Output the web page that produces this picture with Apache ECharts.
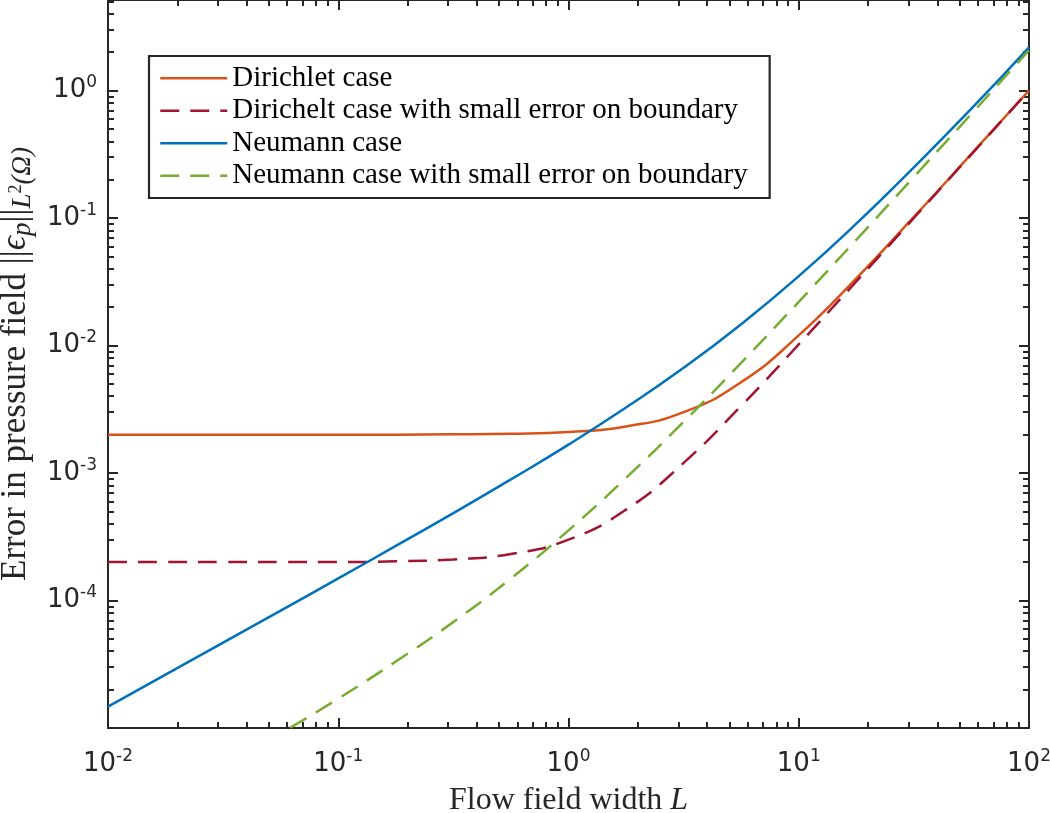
<!DOCTYPE html>
<html><head><meta charset="utf-8">
<script src="https://cdn.jsdelivr.net/npm/echarts@6/dist/echarts.min.js"></script>
<style>html,body{margin:0;padding:0;background:#fff}#c{width:1050px;height:813px}</style>
</head><body><div id="c"></div>
<script>
// Flow field width L (sample points)
const L = [0.01,0.01778,0.03162,0.05623,0.1,0.1778,0.3162,0.5623,1,1.778,3.162,5.623,10,17.78,31.62,56.23,100];
const dirichlet    = [0.002,0.002,0.002,0.002,0.002,0.002,0.00201,0.00203,0.0021,0.00232,0.003,0.00516,0.012,0.0336,0.102,0.318,1.0];
const dirichletErr = [0.0002,0.0002,0.0002,0.0002,0.0002,0.000203,0.00021,0.000232,0.0003,0.000516,0.0012,0.00336,0.0102,0.0318,0.1,0.316,1.0];
const neumann      = [1.47e-5,2.62e-5,4.67e-5,8.33e-5,1.49e-4,2.68e-4,4.85e-4,8.91e-4,1.67e-3,3.26e-3,6.68e-3,1.47e-2,0.035,0.0903,0.25,0.72,2.18];
const neumannErr   = [1.52e-6,2.73e-6,4.95e-6,9.08e-6,1.7e-5,3.32e-5,6.79e-5,1.49e-4,3.55e-4,9.15e-4,2.52e-3,7.32e-3,0.022,0.0675,0.21,0.656,2.07];
const seriesNames = ['Dirichlet case','Dirichelt case with small error on boundary','Neumann case','Neumann case with small error on boundary'];
// axis decades (log10 exponents)
const xDecades = [-2,-1,0,1,2];
const yDecades = [-5,-4,-3,-2,-1,0];
const yLabelDecades = [-4,-3,-2,-1,0];
const xRange = [-2, 2];
const yRange = [-5, 0.71];

function minorOf(decs, lo, hi){
  const out=[];
  for(const d of decs){ for(let k=2;k<=9;k++){ const v=d+Math.log10(k); if(v>lo && v<hi) out.push(v);} }
  return out;
}
const xMinor = minorOf(xDecades, xRange[0], xRange[1]);
const yMinor = minorOf(yDecades, yRange[0], yRange[1]);

const axisColor = '#262626';
const labelRich = {
  b:{fontFamily:'DejaVu Sans', fontSize:26, color:axisColor, lineHeight:32},
  s:{fontFamily:'DejaVu Sans', fontSize:17, color:axisColor, lineHeight:13, verticalAlign:'top'}
};
const fmt = v => '{b|10}{s|' + Math.round(v) + '}';

function mk(data){ return L.map((x,i)=>[Math.log10(x), Math.log10(data[i])]); }

function xAx(pos, minor, labels, extra){
  return Object.assign({
    type:'value', min:xRange[0], max:xRange[1], position:pos, gridIndex:0,
    axisLine:{show:!minor, onZero:false, lineStyle:{color:axisColor, width:2}},
    axisTick:{show:true, inside:true, length:minor?6:10, lineStyle:{color:axisColor, width:2}, customValues: minor?xMinor:xDecades},
    axisLabel:{show:labels, customValues:xDecades, formatter:fmt, rich:labelRich, margin:20},
    splitLine:{show:false}
  }, extra||{});
}
function yAx(pos, minor, labels, extra){
  return Object.assign({
    type:'value', min:yRange[0], max:yRange[1], position:pos, gridIndex:0,
    axisLine:{show:!minor, onZero:false, lineStyle:{color:axisColor, width:2}},
    axisTick:{show:true, inside:true, length:minor?6:10, lineStyle:{color:axisColor, width:2}, customValues: minor?yMinor:yDecades},
    axisLabel:{show:labels, customValues:yLabelDecades, formatter:fmt, rich:labelRich, margin:11},
    splitLine:{show:false}
  }, extra||{});
}

const chart = echarts.init(document.getElementById('c'), null, {renderer:'canvas'});
const serif = 'Liberation Serif';
chart.setOption({
  animation:false,
  backgroundColor:'#fff',
  grid:{left:108, right:21, top:0, bottom:85, containLabel:false, outerBoundsMode:'none'},
  xAxis:[
    xAx('bottom', false, true, {
      name:'{n|Flow field width }{i|L}', nameLocation:'middle', nameGap:57,
      nameTextStyle:{rich:{n:{fontFamily:serif,fontSize:32,color:axisColor},i:{fontFamily:serif,fontSize:32,fontStyle:'italic',color:axisColor}}}
    }),
    xAx('bottom', true, false),
    xAx('top', false, false),
    xAx('top', true, false)
  ],
  yAxis:[
    yAx('left', false, true, {
      name:'{t|Error in pressure field }{t|||}{e|ϵ}{s|p}{t|||}{s|L}{ss|2}{s|(Ω)}',
      nameLocation:'middle', nameGap:72, nameRotate:90,
      nameTextStyle:{rich:{
        t:{fontFamily:serif,fontSize:35,color:axisColor,lineHeight:40},
        e:{fontFamily:serif,fontSize:35,fontStyle:'italic',color:axisColor,lineHeight:40},
        s:{fontFamily:serif,fontSize:27,fontStyle:'italic',color:axisColor,lineHeight:24,verticalAlign:'bottom'},
        ss:{fontFamily:serif,fontSize:18,color:axisColor,lineHeight:18,verticalAlign:'middle'}
      }}
    }),
    yAx('left', true, false),
    yAx('right', false, false),
    yAx('right', true, false)
  ],
  legend:{
    left:149, top:56, orient:'vertical', selectedMode:false,
    itemWidth:67, itemHeight:14, itemGap:0,
    padding:[6,22,6,10], borderColor:'#262626', borderWidth:2.2, backgroundColor:'#fff',
    itemStyle:{opacity:0},
    lineStyle:{width:2.5},
    textStyle:{fontFamily:serif, fontSize:29, color:'#000', lineHeight:32.5},
    data:seriesNames
  },
  series:[
    {name:seriesNames[0], type:'line', data:mk(dirichlet), smooth:true, showSymbol:false, symbol:'none', lineStyle:{color:'#D95319', width:2.5}, itemStyle:{color:'#D95319'}},
    {name:seriesNames[1], type:'line', data:mk(dirichletErr), smooth:true, showSymbol:false, symbol:'none', lineStyle:{color:'#A2142F', width:2.5, type:[19,11]}, itemStyle:{color:'#A2142F'}},
    {name:seriesNames[2], type:'line', data:mk(neumann), smooth:true, showSymbol:false, symbol:'none', lineStyle:{color:'#0072BD', width:2.5}, itemStyle:{color:'#0072BD'}},
    {name:seriesNames[3], type:'line', data:mk(neumannErr), smooth:true, showSymbol:false, symbol:'none', lineStyle:{color:'#77AC30', width:2.5, type:[19,11]}, itemStyle:{color:'#77AC30'}}
  ]
});
</script></body></html>
